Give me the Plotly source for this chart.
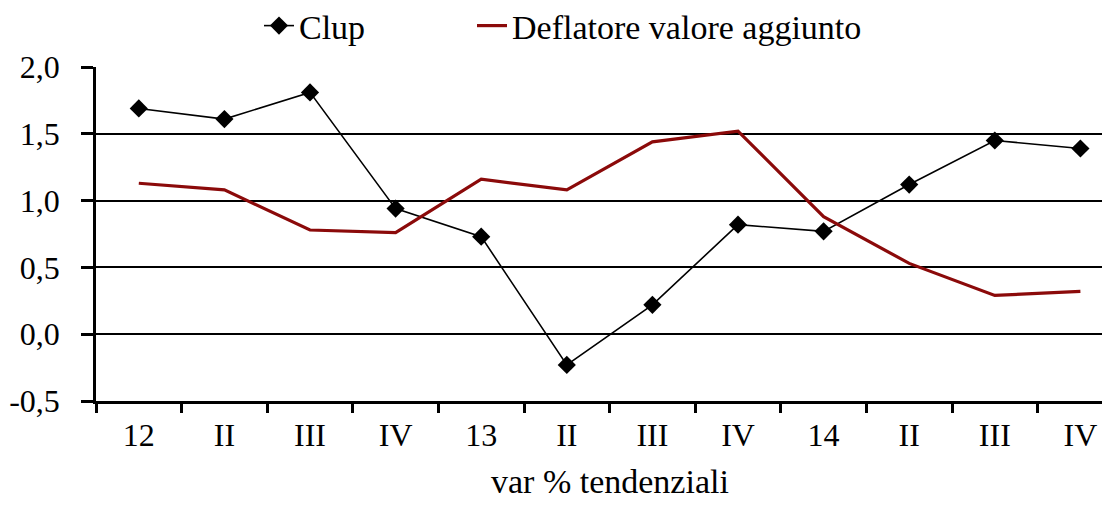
import plotly.graph_objects as go

categories = ["12", "II", "III", "IV", "13", "II", "III", "IV", "14", "II", "III", "IV"]
clup = [1.69, 1.61, 1.81, 0.94, 0.73, -0.23, 0.22, 0.82, 0.77, 1.12, 1.45, 1.39]
deflatore = [1.13, 1.08, 0.78, 0.76, 1.16, 1.08, 1.44, 1.52, 0.88, 0.53, 0.29, 0.32]
y_ticks = [-0.5, 0.0, 0.5, 1.0, 1.5, 2.0]
y_ticktext = ["-0,5", "0,0", "0,5", "1,0", "1,5", "2,0"]

xpos = list(range(len(categories)))
bounds = [i - 0.5 for i in range(len(categories) + 1)]

FONT = "Liberation Serif, Times New Roman, serif"
W, H = 1110, 507
OFF = 8  # default page body margin

fig = go.Figure()
fig.add_trace(go.Scatter(
    x=xpos, y=clup, name="Clup", mode="lines+markers", legend="legend",
    line=dict(color="black", width=1.6),
    marker=dict(symbol="diamond", size=14, color="black"),
))
fig.add_trace(go.Scatter(
    x=xpos, y=deflatore, name="Deflatore valore aggiunto", mode="lines",
    legend="legend2",
    line=dict(color="#8B0A0A", width=3.2),
))

legend_common = dict(
    orientation="h", yref="container", y=1 - (28 - OFF - 2) / H, yanchor="middle",
    xref="container", xanchor="left",
    font=dict(family=FONT, size=34, color="black"),
    bgcolor="rgba(0,0,0,0)", itemclick=False, itemdoubleclick=False,
)

fig.update_layout(
    width=W, height=H,
    margin=dict(l=96 - OFF, r=OFF, t=67 - OFF, b=106 + OFF, autoexpand=False),
    paper_bgcolor="white", plot_bgcolor="white",
    font=dict(family=FONT, size=32, color="black"),
    showlegend=True,
    legend=dict(x=(300 - 41 - OFF) / W, **legend_common),
    legend2=dict(x=(513 - 41 - OFF) / W, **legend_common),
    xaxis=dict(
        range=[-0.5, -0.5 + 1014 / 85.6],
        automargin=False,
        tickmode="array", tickvals=xpos, ticktext=categories,
        ticks="outside", ticklen=4, tickcolor="rgba(0,0,0,0)",
        tickfont=dict(family=FONT, size=32, color="black"),
        showgrid=False, zeroline=False,
        showline=True, linecolor="black", linewidth=2.5,
        minor=dict(tickmode="array", tickvals=bounds, ticks="outside",
                   ticklen=9, tickwidth=2.5, tickcolor="black", showgrid=False),
    ),
    yaxis=dict(
        range=[-0.5, 2.0],
        automargin=False,
        tickmode="array", tickvals=y_ticks, ticktext=y_ticktext,
        ticks="outside", ticklen=12, tickwidth=2.5, tickcolor="black",
        ticklabelstandoff=15,
        tickfont=dict(family=FONT, size=32, color="black"),
        showgrid=True, gridcolor="black", gridwidth=2,
        zeroline=False,
        showline=True, linecolor="black", linewidth=2.5,
    ),
    annotations=[dict(
        text="var % tendenziali", xref="x", yref="paper",
        x=5.5, y=-0.2425, xanchor="center", yanchor="middle",
        showarrow=False, font=dict(family=FONT, size=34, color="black"),
    )],
)

fig.write_html("out.html")
